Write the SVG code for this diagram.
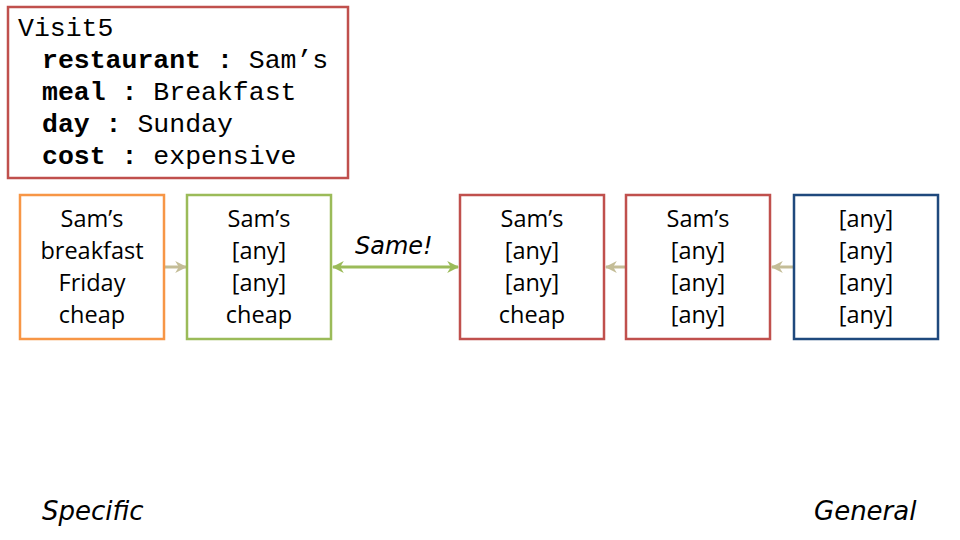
<svg xmlns="http://www.w3.org/2000/svg" width="960" height="540" viewBox="0 0 960 540">
<defs>
<style>
.box{fill:#fff;stroke-width:2.5}
.mono{font-family:"Liberation Mono","Courier New",monospace;font-size:26.5px;fill:#000}
.b{font-weight:bold}
.t{font-family:"Open Sans","Liberation Sans",sans-serif;font-size:23.5px;fill:#000;text-anchor:middle}
.hand{font-family:"DejaVu Sans","Liberation Sans",sans-serif;font-style:italic;fill:#000}
.tan{stroke:#c4bd97;stroke-width:3;fill:none}
.grn{stroke:#9bbb59;stroke-width:3;fill:none}
</style>
<marker id="ah-tan" viewBox="0 0 10 10" refX="9" refY="5" markerWidth="4" markerHeight="4" orient="auto-start-reverse" markerUnits="strokeWidth">
<path d="M0,0 L10,5 L0,10 L3,5 z" fill="#c4bd97"/>
</marker>
<marker id="ah-grn" viewBox="0 0 10 10" refX="9" refY="5" markerWidth="4" markerHeight="4" orient="auto-start-reverse" markerUnits="strokeWidth">
<path d="M0,0 L10,5 L0,10 L3,5 z" fill="#9bbb59"/>
</marker>
</defs>
<rect width="960" height="540" fill="#fff"/>

<g id="visit5">
<rect class="box" x="8" y="7" width="340" height="171" stroke="#c0504d"/>
<text class="mono" x="18" y="36">Visit5</text>
<text class="mono" x="42" y="68"><tspan class="b">restaurant :</tspan> Sam’s</text>
<text class="mono" x="42" y="100"><tspan class="b">meal :</tspan> Breakfast</text>
<text class="mono" x="42" y="132"><tspan class="b">day :</tspan> Sunday</text>
<text class="mono" x="42" y="164"><tspan class="b">cost :</tspan> expensive</text>
</g>

<g id="connectors">
<line class="tan" x1="164" y1="267" x2="186" y2="267" marker-end="url(#ah-tan)"/>
<line class="grn" x1="333" y1="267" x2="458" y2="267" marker-start="url(#ah-grn)" marker-end="url(#ah-grn)"/>
<line class="tan" x1="626" y1="267" x2="606" y2="267" marker-end="url(#ah-tan)"/>
<line class="tan" x1="794" y1="267" x2="772" y2="267" marker-end="url(#ah-tan)"/>
<text class="hand" x="355" y="254" font-size="24">Same!</text>
</g>

<g id="node1">
<rect class="box" x="20" y="195" width="144" height="144" stroke="#f79646"/>
<text class="t" x="92" y="227">Sam’s</text>
<text class="t" x="92" y="259">breakfast</text>
<text class="t" x="92" y="291">Friday</text>
<text class="t" x="92" y="323">cheap</text>
</g>
<g id="node2">
<rect class="box" x="187" y="195" width="144" height="144" stroke="#9bbb59"/>
<text class="t" x="259" y="227">Sam’s</text>
<text class="t" x="259" y="259">[any]</text>
<text class="t" x="259" y="291">[any]</text>
<text class="t" x="259" y="323">cheap</text>
</g>
<g id="node3">
<rect class="box" x="460" y="195" width="144" height="144" stroke="#c0504d"/>
<text class="t" x="532" y="227">Sam’s</text>
<text class="t" x="532" y="259">[any]</text>
<text class="t" x="532" y="291">[any]</text>
<text class="t" x="532" y="323">cheap</text>
</g>
<g id="node4">
<rect class="box" x="626" y="195" width="144" height="144" stroke="#c0504d"/>
<text class="t" x="698" y="227">Sam’s</text>
<text class="t" x="698" y="259">[any]</text>
<text class="t" x="698" y="291">[any]</text>
<text class="t" x="698" y="323">[any]</text>
</g>
<g id="node5">
<rect class="box" x="794" y="195" width="144" height="144" stroke="#1f497d"/>
<text class="t" x="866" y="227">[any]</text>
<text class="t" x="866" y="259">[any]</text>
<text class="t" x="866" y="291">[any]</text>
<text class="t" x="866" y="323">[any]</text>
</g>

<g id="labels">
<text class="hand" x="42" y="520" font-size="26">Specific</text>
<text class="hand" x="814" y="520" font-size="26">General</text>
</g>
</svg>
